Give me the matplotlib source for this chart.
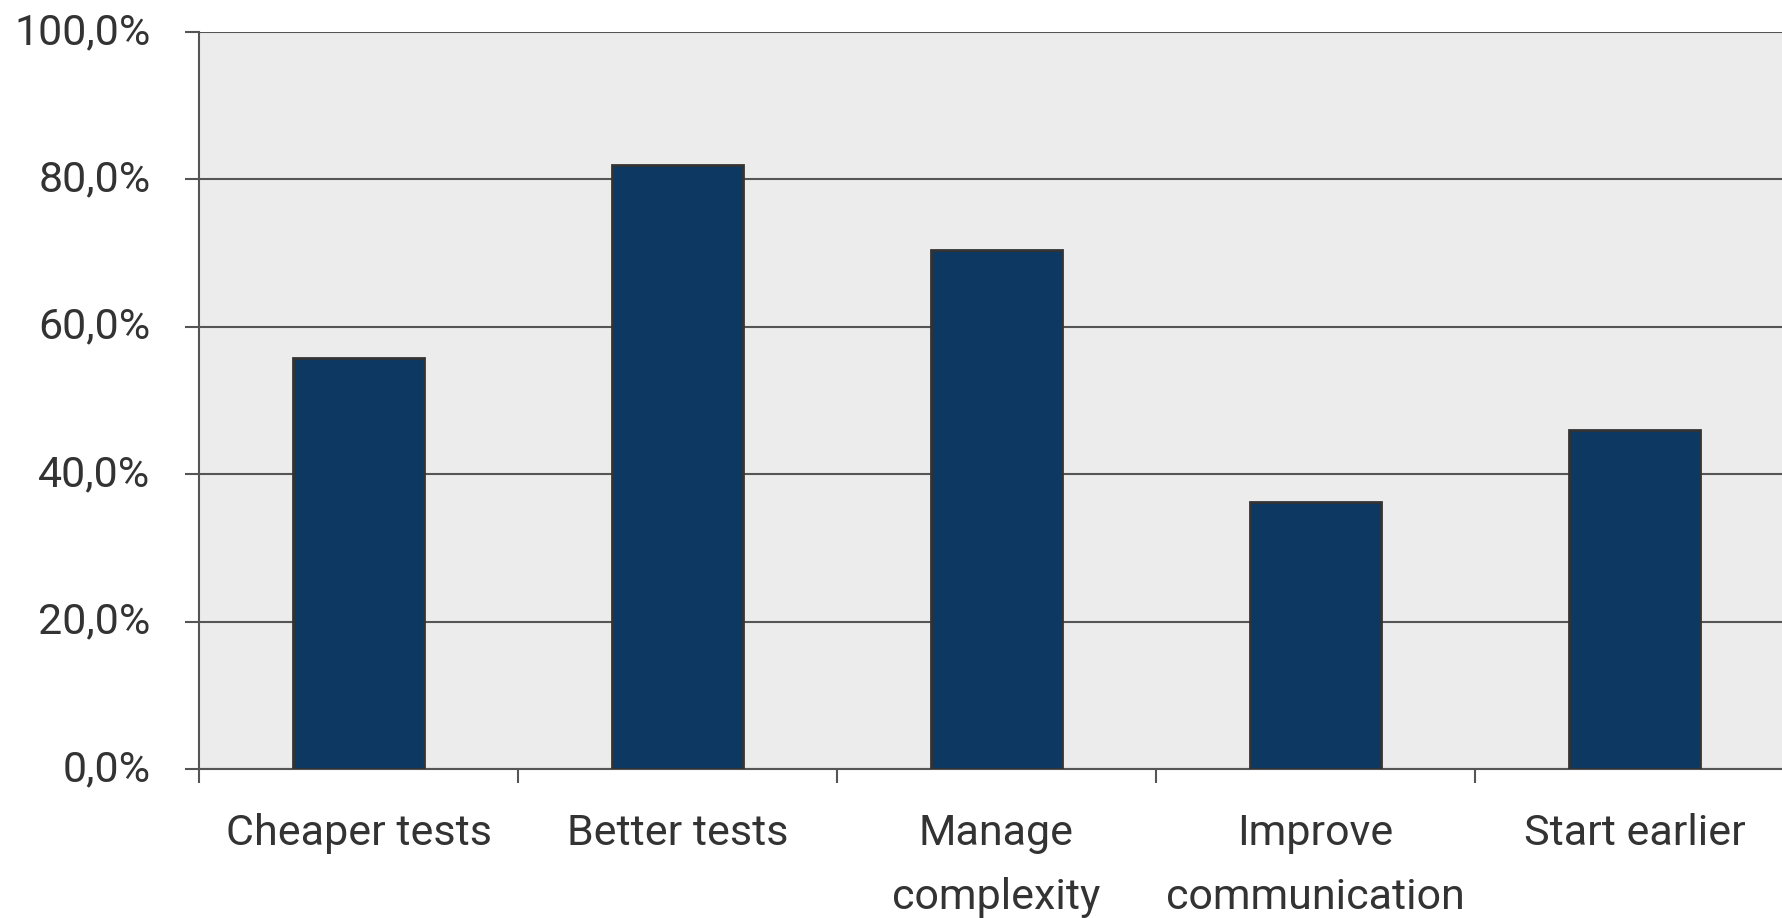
import numpy as np
import matplotlib.pyplot as plt
import matplotlib.transforms as mtransforms
from matplotlib.ticker import FuncFormatter

categories = ["Cheaper tests", "Better tests", "Manage\ncomplexity",
              "Improve\ncommunication", "Start earlier"]
values = [55.8, 82.0, 70.4, 36.2, 46.0]
yticks = [0, 20, 40, 60, 80, 100]

plt.rcParams['font.family'] = ['Roboto', 'DejaVu Sans']

fig = plt.figure(figsize=(17.82, 9.18), dpi=100)
ax = fig.add_axes([199/1782, 149/918, 1 - 199/1782, (769-32)/918])
ax.set_facecolor('#ececec')

x = np.arange(len(categories))
ax.bar(x, values, width=0.41, color='#0d3862', edgecolor='#333333',
       linewidth=2, zorder=3)

ax.set_yticks(yticks)
ax.yaxis.set_major_formatter(FuncFormatter(lambda v, p: f"{v:.1f}%".replace('.', ',')))
ax.grid(axis='y', color='#555555', linewidth=1.5, zorder=1)

# boundaries get the tick marks, centres get the labels
ax.set_xticks(np.arange(len(categories) + 1) - 0.5)
ax.set_xticklabels([])
ax.set_xticks(x, minor=True)
ax.set_xticklabels(categories, minor=True, linespacing=1.69)
ax.tick_params(axis='x', which='minor', length=0, pad=32,
               labelsize=31, labelcolor='#333333')
ax.tick_params(axis='x', which='major', length=10, width=1.5, color='#555555')
ax.tick_params(axis='y', length=10, width=1.5, color='#555555', pad=25,
               labelsize=31, labelcolor='#333333')

# y labels sit a little above their lines in the original
shift = mtransforms.ScaledTranslation(0, 4/100, fig.dpi_scale_trans)
for lab in ax.get_yticklabels():
    lab.set_transform(lab.get_transform() + shift)

# plot area runs past the right edge of the picture
ax.set_ylim(0, 100)
ax.set_xlim(-0.5, -0.5 + (1782-199)/319)

for s in ['top', 'right']:
    ax.spines[s].set_visible(False)
for s in ['left', 'bottom']:
    ax.spines[s].set_color('#555555')
    ax.spines[s].set_linewidth(1.5)

fig.savefig('out.png', dpi=100)
